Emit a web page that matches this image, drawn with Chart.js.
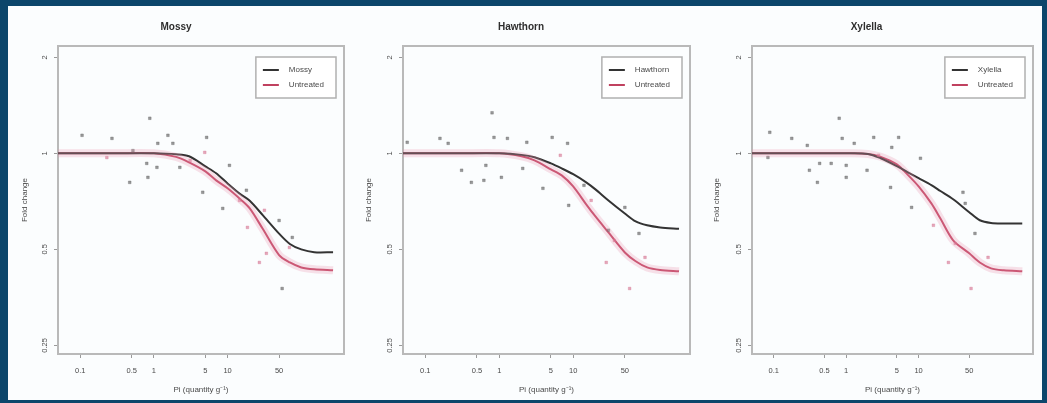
<!DOCTYPE html>
<html lang="en">
<head>
    <meta charset="UTF-8">
    <title>Dose response panels</title>
    <script src="https://cdn.jsdelivr.net/npm/chart.js"></script>
    <style>
        body {
            margin: 0;
            padding: 0;
            width: 1047px;
            height: 403px;
            background: #0c466b;
            overflow: hidden;
            font-family: "Liberation Sans", Arial, sans-serif;
        }
        .sheet {
            position: absolute;
            left: 8px;
            top: 6px;
            width: 1034px;
            height: 394px;
            background: #fbfdfe;
        }
        .panel {
            position: absolute;
            top: 8px;
        }
    </style>
</head>
<body>
    <div class="sheet"></div>
    <div class="panel" style="left: 8px;"><canvas id="panel1" width="344" height="390"></canvas></div>
    <div class="panel" style="left: 352px;"><canvas id="panel2" width="348" height="390"></canvas></div>
    <div class="panel" style="left: 700px;"><canvas id="panel3" width="342" height="390"></canvas></div>

    <script>
        // axis ticks
        const xTicks = [0.1, 0.5, 1, 5, 10, 50];
        const yTicks = [0.25, 0.5, 1, 2];

        // doses at which the fitted curves are listed
        const fitDose = [0.05, 0.1, 0.3, 1, 2, 3, 5, 7, 10, 15, 20, 30, 50, 70, 100, 150, 270];

        // Mossy
        const mossyFit = [1, 1, 1, 1, 0.993, 0.979, 0.91, 0.866, 0.805, 0.744, 0.71, 0.64, 0.56, 0.52, 0.5, 0.49, 0.49];
        const mossyUntreatedFit = [1, 1, 1, 1, 0.975, 0.937, 0.878, 0.823, 0.777, 0.717, 0.672, 0.58, 0.48, 0.455, 0.439, 0.433, 0.43];
        const mossyDoseX = [0.106, 0.27, 0.88, 1.55, 5.2, 0.52, 1.13, 1.81, 0.8, 1.1, 2.25, 0.47, 0.83, 4.6, 10.6, 18, 8.6, 50, 75.5, 55];
        const mossyDoseY = [1.139, 1.114, 1.288, 1.139, 1.122, 1.02, 1.075, 1.075, 0.93, 0.904, 0.904, 0.811, 0.841, 0.755, 0.917, 0.766, 0.672, 0.616, 0.545, 0.377];
        const mossyUntreatedX = [0.23, 4.9, 18.6, 27, 33.6, 69, 31.6, 14.5, 3.1];
        const mossyUntreatedY = [0.97, 1.007, 0.586, 0.455, 0.486, 0.507, 0.663, 0.712, 0.95];

        // Hawthorn
        const hawthornFit = [1, 1, 1, 1, 0.989, 0.972, 0.93, 0.897, 0.86, 0.811, 0.771, 0.712, 0.648, 0.612, 0.595, 0.586, 0.58];
        const hawthornUntreatedFit = [1, 1, 1, 1, 0.979, 0.951, 0.891, 0.853, 0.788, 0.692, 0.634, 0.565, 0.489, 0.459, 0.439, 0.431, 0.427];
        const hawthornDoseX = [0.8, 0.158, 0.204, 0.057, 0.85, 1.29, 2.36, 5.2, 8.4, 0.31, 0.42, 0.62, 1.07, 0.66, 3.9, 2.08, 14, 8.7, 50, 77.6, 30];
        const hawthornDoseY = [1.34, 1.114, 1.075, 1.083, 1.122, 1.114, 1.083, 1.122, 1.075, 0.885, 0.811, 0.823, 0.841, 0.917, 0.777, 0.897, 0.794, 0.687, 0.677, 0.561, 0.574];
        const hawthornUntreatedX = [36, 28, 93.6, 58, 6.7, 17.5];
        const hawthornUntreatedY = [0.533, 0.455, 0.472, 0.377, 0.986, 0.712];

        // Xylella
        const xylellaFit = [1, 1, 1, 1, 0.996, 0.965, 0.912, 0.874, 0.836, 0.795, 0.762, 0.718, 0.654, 0.617, 0.605, 0.603, 0.603];
        const xylellaUntreatedFit = [1, 1, 1, 1, 0.996, 0.975, 0.924, 0.859, 0.788, 0.697, 0.625, 0.534, 0.486, 0.455, 0.436, 0.43, 0.427];
        const xylellaDoseX = [0.8, 0.088, 0.177, 0.29, 0.88, 2.4, 5.3, 1.29, 4.26, 0.083, 0.43, 0.62, 1, 1.94, 0.31, 0.4, 1, 4.1, 10.6, 41, 8, 44, 60];
        const xylellaDoseY = [1.288, 1.164, 1.114, 1.059, 1.114, 1.122, 1.122, 1.075, 1.044, 0.971, 0.93, 0.93, 0.917, 0.885, 0.885, 0.811, 0.841, 0.782, 0.965, 0.755, 0.677, 0.697, 0.561];
        const xylellaUntreatedX = [25.8, 53, 91, 32, 16, 2.8];
        const xylellaUntreatedY = [0.455, 0.377, 0.472, 0.522, 0.595, 0.986];

        const untreatedLabel = 'Untreated';
        const darkLine = '#333333';
        const redLine = '#c0415f';
        const fontFamily = '"Liberation Sans", Arial, sans-serif';

        function pairs(xs, ys) {
            return xs.map((x, i) => ({ x: x, y: ys[i] }));
        }

        // box round the plot area plus a small legend in the upper right corner
        const framePlugin = {
            id: 'frame',
            beforeDatasetsDraw(chart) {
                const a = chart.chartArea;
                const ctx = chart.ctx;
                ctx.save();
                ctx.strokeStyle = '#b9b9b9';
                ctx.lineWidth = 2;
                ctx.strokeRect(a.left, a.top, a.right - a.left, a.bottom - a.top);
                ctx.restore();
            },
            afterDraw(chart) {
                const a = chart.chartArea;
                const ctx = chart.ctx;
                const rows = chart.data.datasets.filter(d => d.inLegend);
                ctx.save();
                ctx.font = '8px ' + fontFamily;
                const textW = Math.max(...rows.map(r => ctx.measureText(r.label).width));
                const w = 36 + textW + 9;
                const h = 41;
                const x0 = a.right - 8 - w;
                const y0 = a.top + 11;
                ctx.fillStyle = '#ffffff';
                ctx.fillRect(x0, y0, w, h);
                ctx.strokeStyle = '#b0b0b0';
                ctx.lineWidth = 1.5;
                ctx.strokeRect(x0, y0, w, h);
                rows.forEach((r, i) => {
                    const y = y0 + 13 + i * 15;
                    ctx.strokeStyle = r.borderColor;
                    ctx.lineWidth = 2;
                    ctx.beginPath();
                    ctx.moveTo(x0 + 7, y);
                    ctx.lineTo(x0 + 23, y);
                    ctx.stroke();
                    ctx.fillStyle = '#4a4a4a';
                    ctx.textBaseline = 'middle';
                    ctx.fillText(r.label, x0 + 33, y);
                });
                ctx.restore();
            }
        };

        function makePanel(id, title, fitA, fitB, dotsAX, dotsAY, dotsBX, dotsBY, padRight, yWidth) {
            const ctx = document.getElementById(id).getContext('2d');
            return new Chart(ctx, {
                type: 'scatter',
                data: {
                    datasets: [
                        {
                            label: 'band',
                            data: pairs(fitDose, fitB),
                            showLine: true,
                            borderColor: 'rgba(232, 150, 175, 0.28)',
                            borderWidth: 8,
                            pointRadius: 0,
                            tension: 0.3
                        },
                        {
                            label: title + ' points',
                            data: pairs(dotsAX, dotsAY),
                            pointStyle: 'rect',
                            pointRadius: 1.9,
                            backgroundColor: 'rgba(90, 90, 90, 0.62)',
                            borderColor: 'rgba(90, 90, 90, 0.62)',
                            borderWidth: 0.5
                        },
                        {
                            label: untreatedLabel + ' points',
                            data: pairs(dotsBX, dotsBY),
                            pointStyle: 'rect',
                            pointRadius: 1.9,
                            backgroundColor: 'rgba(212, 110, 140, 0.6)',
                            borderColor: 'rgba(212, 110, 140, 0.6)',
                            borderWidth: 0.5
                        },
                        {
                            label: title,
                            inLegend: true,
                            data: pairs(fitDose, fitA),
                            showLine: true,
                            borderColor: darkLine,
                            borderWidth: 2,
                            pointRadius: 0,
                            tension: 0.3
                        },
                        {
                            label: untreatedLabel,
                            inLegend: true,
                            data: pairs(fitDose, fitB),
                            showLine: true,
                            borderColor: redLine,
                            borderWidth: 2,
                            pointRadius: 0,
                            tension: 0.3
                        }
                    ]
                },
                options: {
                    responsive: false,
                    animation: false,
                    devicePixelRatio: 1,
                    layout: {
                        padding: { left: 0, right: padRight, top: 0, bottom: 0 }
                    },
                    plugins: {
                        legend: { display: false },
                        tooltip: { enabled: false },
                        title: {
                            display: true,
                            text: title,
                            color: '#2e2e2e',
                            font: { family: fontFamily, size: 10, weight: 'bold' },
                            padding: { top: 13, bottom: 13 }
                        }
                    },
                    scales: {
                        x: {
                            type: 'logarithmic',
                            min: 0.05,
                            max: 380,
                            afterBuildTicks: scale => { scale.ticks = xTicks.map(v => ({ value: v })); },
                            afterFit: scale => { scale.height = 44; },
                            grid: { drawOnChartArea: false, tickLength: 4, color: '#9a9a9a' },
                            border: { display: false },
                            ticks: {
                                color: '#4a4a4a',
                                font: { family: fontFamily, size: 7.5 },
                                padding: 8,
                                autoSkip: false,
                                maxRotation: 0,
                                callback: v => String(v)
                            },
                            title: {
                                display: true,
                                text: 'Pi (quantity g⁻¹)',
                                color: '#4a4a4a',
                                font: { family: fontFamily, size: 8 },
                                padding: { top: 3, bottom: 3 }
                            }
                        },
                        y: {
                            type: 'logarithmic',
                            min: 0.235,
                            max: 2.17,
                            afterBuildTicks: scale => { scale.ticks = yTicks.map(v => ({ value: v })); },
                            afterFit: scale => { scale.width = yWidth; },
                            grid: { drawOnChartArea: false, tickLength: 4, color: '#9a9a9a' },
                            border: { display: false },
                            ticks: {
                                color: '#4a4a4a',
                                font: { family: fontFamily, size: 7.5 },
                                padding: 2,
                                minRotation: 90,
                                maxRotation: 90,
                                crossAlign: 'center',
                                callback: v => String(v)
                            },
                            title: {
                                display: true,
                                text: 'Fold change',
                                color: '#4a4a4a',
                                font: { family: fontFamily, size: 8 },
                                padding: { top: 12, bottom: 0 }
                            }
                        }
                    }
                },
                plugins: [framePlugin]
            });
        }

        makePanel('panel1', 'Mossy', mossyFit, mossyUntreatedFit,
            mossyDoseX, mossyDoseY, mossyUntreatedX, mossyUntreatedY, 8, 50);
        makePanel('panel2', 'Hawthorn', hawthornFit, hawthornUntreatedFit,
            hawthornDoseX, hawthornDoseY, hawthornUntreatedX, hawthornUntreatedY, 10, 51);
        makePanel('panel3', 'Xylella', xylellaFit, xylellaUntreatedFit,
            xylellaDoseX, xylellaDoseY, xylellaUntreatedX, xylellaUntreatedY, 9, 52);
    </script>
</body>
</html>
